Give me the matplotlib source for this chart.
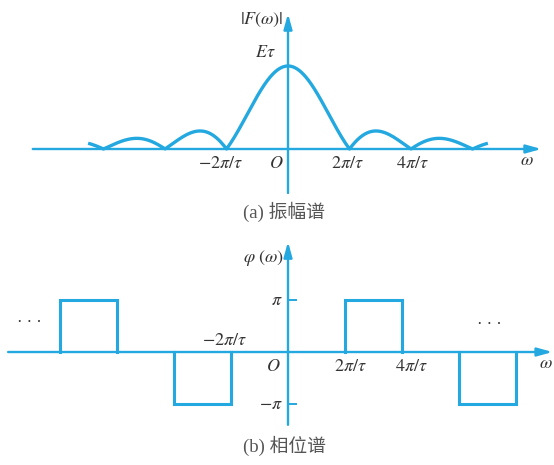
import numpy as np
import matplotlib
matplotlib.use("Agg")
import matplotlib.pyplot as plt

plt.rcParams['mathtext.fontset'] = 'stix'
plt.rcParams['font.family'] = ['Liberation Serif', 'Noto Sans CJK SC', 'DejaVu Sans']

# === Dades ===
# eix x en unitats de 2*pi/tau, amplitud en unitats de E*tau
omega_min, omega_max = -3.25, 3.25
E_tau = 1.0

# espectre de fase: caixes (inici, final, nivell en unitats de pi)
box_starts = [-4, -2, 1, 3]
box_ends = [-3, -1, 2, 4]
box_levels = [1, -1, 1, -1]

top_labels = [r'$-2\pi/\tau$', r'$O$', r'$2\pi/\tau$', r'$4\pi/\tau$']
bot_labels = [r'$O$', r'$2\pi/\tau$', r'$4\pi/\tau$']

BLUE = '#23a8e0'
TXT = '#333333'
CAP = '#555555'

fig = plt.figure(figsize=(5.54, 4.65), dpi=100)

def arrow(ax, x0, y0, x1, y1):
    ax.annotate('', xy=(x1, y1), xytext=(x0, y0), annotation_clip=False,
                arrowprops=dict(arrowstyle='-|>,head_length=0.9,head_width=0.25',
                                color=BLUE, lw=1.7, shrinkA=0, shrinkB=0))

# --- (a) espectre d'amplitud ---
ax1 = fig.add_axes([0, 1 - 232 / 465, 1, 232 / 465])
ax1.set_xlim(-288 / 61.5, 266 / 61.5)
ax1.set_ylim(-1.0, 1.795)
ax1.axis('off')

arrow(ax1, -4.15, 0, 4.12, 0)
arrow(ax1, 0, -0.53, 0, 1.63)

w = np.linspace(omega_min, omega_max, 1200)
amp = E_tau * np.abs(np.sinc(w))
ax1.plot(w, amp, color=BLUE, lw=2.4, solid_capstyle='butt')

tick_x1 = [-1.1, -0.195, 0.96, 2.03]
for x, lab in zip(tick_x1, top_labels):
    ax1.text(x, -0.17, lab, ha='center', va='center', fontsize=13, color=TXT)
ax1.text(-0.08, 1.554, r'$|F(\omega)|$', ha='right', va='center', fontsize=13, color=TXT)
ax1.text(-0.37, 1.16, r'$E\tau$', ha='center', va='center', fontsize=13, color=TXT)
ax1.text(3.886, -0.133, r'$\omega$', ha='center', va='center', fontsize=13, color=TXT)
ax1.text(-0.065, -0.76, '(a) 振幅谱', ha='center', va='center', fontsize=13.5, color=CAP)

# --- (b) espectre de fase ---
ax2 = fig.add_axes([0, 0, 1, 233 / 465])
ax2.set_xlim(-288 / 57, 266 / 57)
ax2.set_ylim(-2.173, 2.308)
ax2.axis('off')

arrow(ax2, -4.91, 0, 4.64, 0)
arrow(ax2, 0, -1.40, 0, 2.12)

for s, e, l in zip(box_starts, box_ends, box_levels):
    ax2.plot([s, s, e, e], [0, l, l, 0], color=BLUE, lw=2.2, solid_joinstyle='miter')

for l in [1, -1]:
    ax2.plot([0, 0.14], [l, l], color=BLUE, lw=1.4)

ax2.text(-0.19, 1, r'$\pi$', ha='center', va='center', fontsize=13, color=TXT)
ax2.text(-0.09, -1, r'$-\pi$', ha='right', va='center', fontsize=13, color=TXT)
ax2.text(-1.12, 0.23, r'$-2\pi/\tau$', ha='center', va='center', fontsize=13, color=TXT)
tick_x2 = [-0.26, 1.09, 2.16]
for x, lab in zip(tick_x2, bot_labels):
    ax2.text(x, -0.27, lab, ha='center', va='center', fontsize=13, color=TXT)
ax2.text(-0.07, 1.81, r'$\varphi\ (\omega)$', ha='right', va='center', fontsize=13, color=TXT)
ax2.text(4.52, -0.23, r'$\omega$', ha='center', va='center', fontsize=13, color=TXT)
ax2.text(-4.54, 0.56, '· · ·', ha='center', va='center', fontsize=12, color=TXT)
ax2.text(3.54, 0.52, '· · ·', ha='center', va='center', fontsize=12, color=TXT)
ax2.text(-0.07, -1.81, '(b) 相位谱', ha='center', va='center', fontsize=13.5, color=CAP)

fig.savefig('out.png', dpi=100, facecolor='white')
